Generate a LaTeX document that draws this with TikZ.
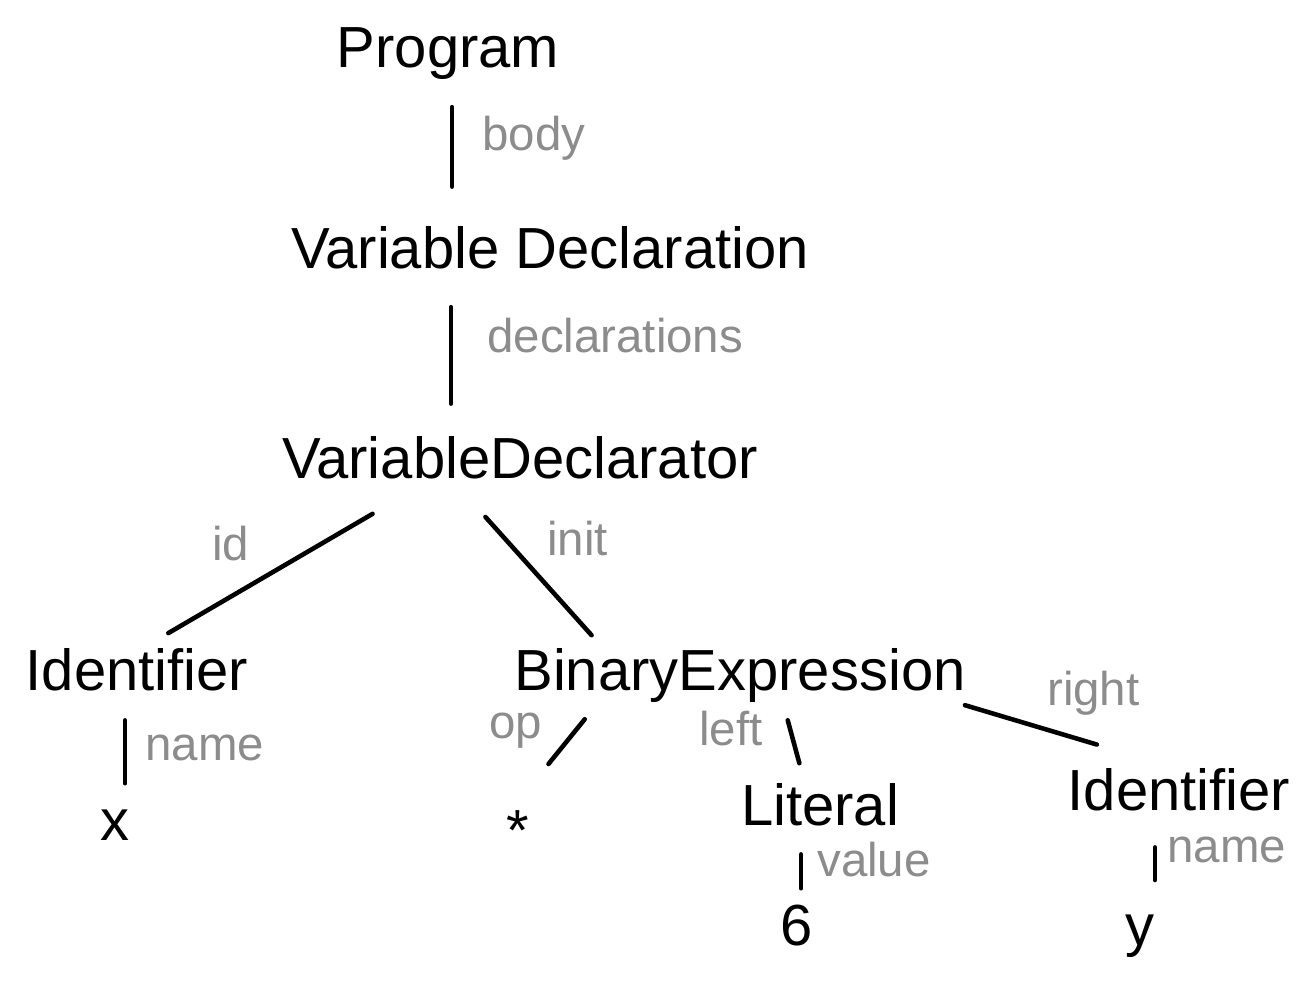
\documentclass[tikz,border=0pt]{standalone}
\usepackage{fontspec}
\setmainfont{Liberation Sans}
\definecolor{fieldgray}{RGB}{140,140,140}

\begin{document}
\begin{tikzpicture}[x=0.02cm, y=-0.02cm, line width=2.6pt, line cap=round,
    ast/.style={anchor=base, inner sep=0pt, font=\fontsize{33}{35}\selectfont, text height=22pt, text depth=6pt},
    field/.style={anchor=base west, inner sep=0pt, text=fieldgray, font=\fontsize{27}{29}\selectfont}]
        \useasboundingbox (0,0) rectangle (1303,987);

        % tree nodes
        \node[ast] (prog) at (448,68) {Program};
        \node[ast] (vdecl) at (550,268) {Variable Declaration};
        \node[ast] (vdtor) at (520,478) {VariableDeclarator};
        \node[ast] (id1) at (137,690) {Identifier};
        \node[ast] (binexp) at (740,690) {BinaryExpression};
        \node[ast] (lit) at (820,825) {Literal};
        \node[ast] (id2) at (1179,810) {Identifier};
        \node[ast] (xleaf) at (115,840) {x};
        \node[ast] (star) at (518,850) {*};
        \node[ast] (six) at (797,945) {6};
        \node[ast] (yleaf) at (1140,945) {y};

        % field names
        \node[field] (lbody) at (480,150) {body};
        \node[field] (ldecls) at (485,352) {declarations};
        \node[field] (lid) at (210,560) {id};
        \node[field] (linit) at (545,555) {init};
        \node[field] (lname1) at (143,760) {name};
        \node[field] (lop) at (487,738) {op};
        \node[field] (lleft) at (697,745) {left};
        \node[field] (lright) at (1045,705) {right};
        \node[field] (lvalue) at (815,876) {value};
        \node[field] (lname2) at (1165,862) {name};

        \draw[shorten <=15pt, shorten >=23pt] (prog.south -| 452,0) -- (vdecl.north -| 452,0);
        \draw[shorten <=15pt, shorten >=19pt] (vdecl.south -| 451,0) -- (vdtor.north -| 451,0);
        \draw[shorten <=26pt, shorten >=18pt] (vdtor.south -| 412,0) -- (id1.north -| 141,0);
        \draw[shorten <=20pt, shorten >=10.6pt] (vdtor.south -| 462,0) -- (binexp.north -| 604,0);
        \draw[shorten <=10pt, shorten >=9pt] (id1.south -| 125,0) -- (xleaf.north -| 125,0);
        \draw[shorten <=12pt, shorten >=33pt] (binexp.south -| 598,0) -- (star.north -| 512,0);
        \draw[shorten <=10.3pt, shorten >=12.3pt] (binexp.south -| 783,0) -- (lit.north -| 805,0);
        \draw[shorten <=4.7pt, shorten >=48.8pt] (binexp.south -| 957,0) -- (id2.north -| 1179,0);
        \draw[shorten <=9.4pt, shorten >=9pt] (lit.south -| 801,0) -- (six.north -| 801,0);
        \draw[shorten <=14pt, shorten >=13.7pt] (id2.south -| 1155,0) -- (yleaf.north -| 1155,0);
\end{tikzpicture}
\end{document}
